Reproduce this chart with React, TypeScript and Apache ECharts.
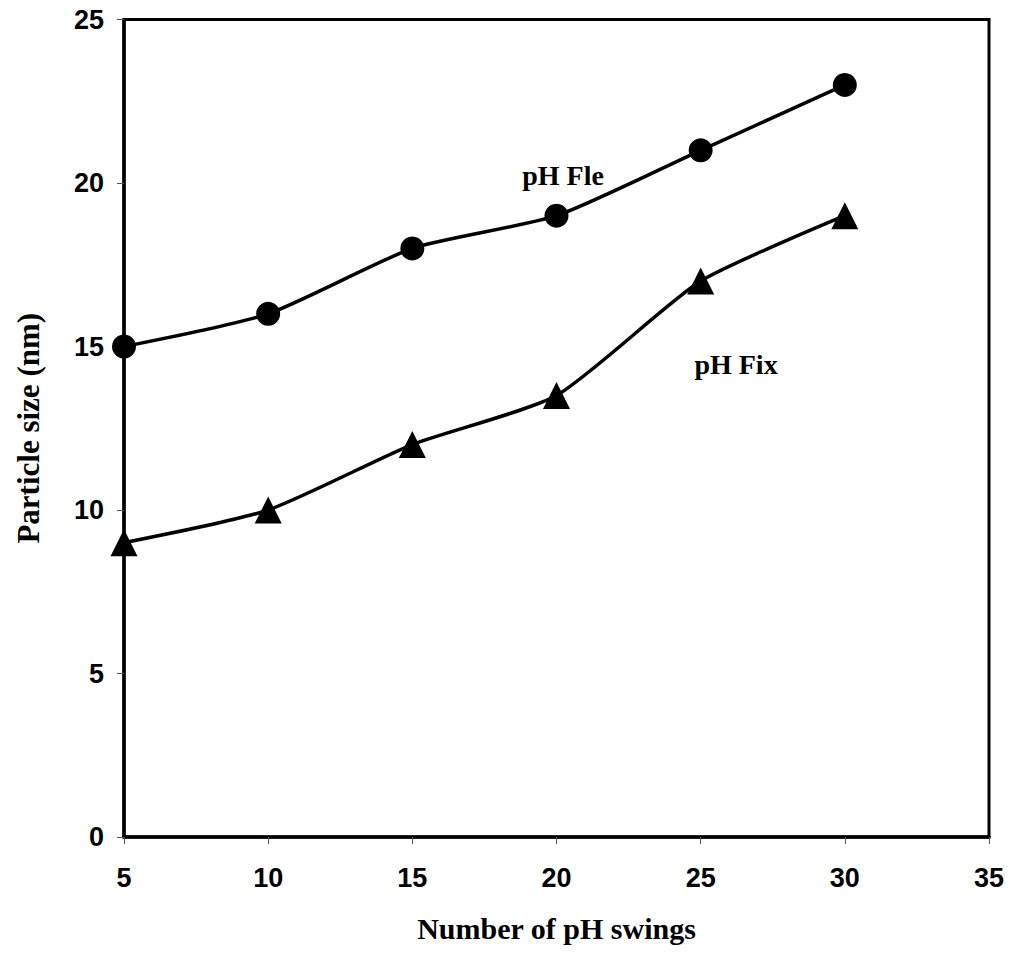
import React, { useEffect, useRef } from "react";
import * as echarts from "echarts";

const swings = [5, 10, 15, 20, 25, 30];
const phFle = [15, 16, 18, 19, 21, 23];
const phFix = [9, 10, 12, 13.5, 17, 19];
const xTitle = "Number of pH swings";
const yTitle = "Particle size (nm)";
const labelFle = "pH Fle";
const labelFix = "pH Fix";

export default function App() {
  const ref = useRef<HTMLDivElement>(null);
  useEffect(() => {
    if (!ref.current) return;
    const chart = echarts.init(ref.current, undefined, { renderer: "svg" });
    const serif = "'Liberation Serif', 'Times New Roman', serif";
    const sans = "'Liberation Sans', Arial, sans-serif";
    chart.setOption({
      animation: false,
      backgroundColor: "#ffffff",
      grid: {
        left: 124,
        top: 19.5,
        right: 21,
        bottom: 116,
        show: true,
        borderColor: "#000",
        borderWidth: 3,
        containLabel: false,
        outerBoundsMode: "none",
      },
      xAxis: {
        type: "value",
        min: 5,
        max: 35,
        interval: 5,
        name: xTitle,
        nameLocation: "middle",
        nameGap: 76,
        nameTextStyle: { fontFamily: serif, fontWeight: "bold", fontSize: 30, color: "#000" },
        axisLine: { show: true, lineStyle: { color: "#000", width: 3.5 } },
        axisTick: { show: true, length: 7, lineStyle: { color: "#555", width: 1 } },
        axisLabel: { fontFamily: sans, fontWeight: "bold", fontSize: 27, color: "#000", margin: 27 },
        splitLine: { show: false },
      },
      yAxis: {
        type: "value",
        min: 0,
        max: 25,
        interval: 5,
        name: yTitle,
        nameLocation: "middle",
        nameGap: 80,
        nameRotate: 90,
        nameTextStyle: { fontFamily: serif, fontWeight: "bold", fontSize: 31, color: "#000" },
        axisLine: { show: true, lineStyle: { color: "#000", width: 3.5 } },
        axisTick: { show: true, length: 7, lineStyle: { color: "#555", width: 1 } },
        axisLabel: { fontFamily: sans, fontWeight: "bold", fontSize: 27, color: "#000", margin: 20 },
        splitLine: { show: false },
      },
      series: [
        {
          type: "line",
          name: labelFle,
          data: swings.map((x, i) => [x, phFle[i]]),
          smooth: 0.2,
          symbol: "circle",
          symbolSize: 24,
          lineStyle: { color: "#000", width: 3.5 },
          itemStyle: { color: "#000" },
          z: 3,
        },
        {
          type: "line",
          name: labelFix,
          data: swings.map((x, i) => [x, phFix[i]]),
          smooth: 0.2,
          symbol: "triangle",
          symbolSize: 27,
          lineStyle: { color: "#000", width: 3.5 },
          itemStyle: { color: "#000" },
          z: 3,
        },
      ],
      graphic: [
        {
          type: "text",
          x: 563,
          y: 175,
          style: { text: labelFle, font: `bold 28px ${serif}`, fill: "#000", align: "center", verticalAlign: "middle" },
        },
        {
          type: "text",
          x: 736,
          y: 364,
          style: { text: labelFix, font: `bold 28px ${serif}`, fill: "#000", align: "center", verticalAlign: "middle" },
        },
      ],
    });
    return () => chart.dispose();
  }, []);
  return (
    <div
      ref={ref}
      style={{ position: "absolute", left: 0, top: 0, width: 1010, height: 953, background: "#fff" }}
    />
  );
}
